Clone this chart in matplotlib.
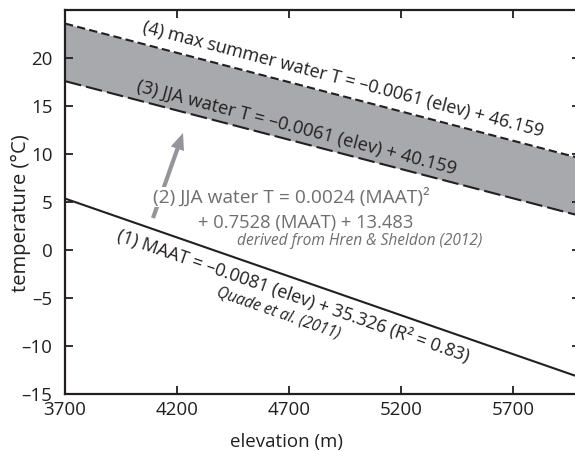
import matplotlib.pyplot as plt
import numpy as np

plt.rcParams['font.family'] = ['Open Sans', 'DejaVu Sans']

# end points of the three relations (elevation in m, temperature in degC)
elev = [3700, 6000]
maat = [5.36, -13.27]          # (1) MAAT
jja_water = [17.59, 3.56]      # (3) JJA water T
max_summer = [23.59, 9.56]     # (4) max summer water T

xticks = [3700, 4200, 4700, 5200, 5700]
yticks = [-15, -10, -5, 0, 5, 10, 15, 20]

black = '#231f20'
grey_fill = '#a7a9ac'
grey_arrow = '#939598'
grey_text = '#6d6e71'

fig = plt.figure(figsize=(5.75, 4.51), dpi=100)
ax = fig.add_axes([65/575, 1 - 394/451, (580 - 65)/575, 384/451])

ax.fill_between(elev, jja_water, max_summer, color=grey_fill, lw=0)
ax.plot(elev, maat, color=black, lw=1.5, solid_capstyle='butt')
ax.plot(elev, jja_water, color=black, lw=1.5, dashes=(8, 2.4))
ax.plot(elev, max_summer, color=black, lw=1.5, dashes=(4, 2))

ax.set_xlim(3700, 6000)
ax.set_ylim(-15, 25)
ax.set_xticks(xticks)
ax.set_yticks(yticks)
ax.set_yticklabels([str(v).replace('-', '\u2013') for v in yticks])

for s in ax.spines.values():
    s.set_linewidth(1.6)
    s.set_color(black)
ax.tick_params(direction='in', length=5.5, width=1.3, top=True, right=True,
               labelsize=13.5, colors=black)
ax.tick_params(axis='y', pad=9)
ax.tick_params(axis='x', pad=5)

ax.set_xlabel('elevation (m)', fontsize=13.5, color=black)
ax.xaxis.set_label_coords(0.431, -0.102)
ax.set_ylabel('temperature (\u00b0C)', fontsize=14.5, color=black)
ax.yaxis.set_label_coords(-0.066, 0.471)


def screen_angle(xs, ys):
    p = ax.transData.transform(np.column_stack([xs, ys]))
    return np.degrees(np.arctan2(p[1, 1] - p[0, 1], p[1, 0] - p[0, 0]))


def line_label(xs, ys, xc, off, text, **kw):
    ang = screen_angle(xs, ys)
    yc = np.interp(xc, xs, ys)
    t = np.radians(ang)
    ax.annotate(text, xy=(xc, yc), xytext=(-off*np.sin(t), off*np.cos(t)),
                textcoords='offset points', rotation=ang, rotation_mode='anchor',
                ha='center', va='center', **kw)


line_label(elev, max_summer, 4925, 11.6,
           '(4) max summer water T = \u20130.0061 (elev) + 46.159',
           fontsize=13, color=black)
line_label(elev, jja_water, 4720, 9.5,
           '(3) JJA water T = \u20130.0061 (elev) + 40.159',
           fontsize=13.2, color=black)
line_label(elev, maat, 4745, -12.5,
           '(1) MAAT = \u20130.0081 (elev) + 35.326 (R\u00b2 = 0.83)',
           fontsize=13, color=black)
line_label(elev, maat, 4709, -27.5,
           'Quade et al. (2011)', fontsize=11.2, style='italic', color=black)

# arrow from MAAT towards JJA water T
ax.annotate('', xy=(4227, 12.19), xytext=(4093, 3.33),
            arrowprops=dict(arrowstyle='simple,head_length=1.2,head_width=1.0,tail_width=0.3',
                            mutation_scale=10, color=grey_arrow, lw=0,
                            shrinkA=0, shrinkB=0),
            zorder=2)

ax.text(4093, 5.52, '(2) JJA water T = 0.0024 (MAAT)\u00b2', fontsize=13.8,
        color=grey_text, ha='left', va='center', zorder=4,
        bbox=dict(fc='white', ec='none', pad=0.3))
ax.text(4294, 2.81, '+ 0.7528 (MAAT) + 13.483', fontsize=13.2,
        color=grey_text, ha='left', va='center', zorder=4)
ax.text(4468, 0.94, 'derived from Hren & Sheldon (2012)', fontsize=11.2,
        style='italic', color=grey_text, ha='left', va='center', zorder=4)

fig.savefig('out.png', dpi=100)
